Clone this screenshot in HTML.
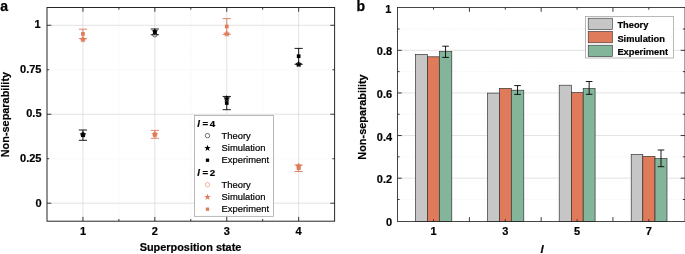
<!DOCTYPE html>
<html><head><meta charset="utf-8"><title>Non-separability</title>
<style>
html,body{margin:0;padding:0;background:#fff;}
body{width:685px;height:254px;overflow:hidden;}
svg{display:block;will-change:transform;font-family:"Liberation Sans",Arial,Helvetica,sans-serif;}
.b{font-weight:bold;}
.tk{font-weight:bold;font-size:11px;fill:#000;stroke:#000;stroke-width:0.2px;}
.ax{font-weight:bold;font-size:10.9px;fill:#000;stroke:#000;stroke-width:0.2px;}
.lg{font-size:9.4px;fill:#000;stroke:#000;stroke-width:0.2px;}
.lh{font-weight:bold;font-size:9.7px;fill:#000;stroke:#000;stroke-width:0.2px;}
.pl{font-weight:bold;font-size:14px;fill:#000;stroke:#000;stroke-width:0.25px;}
</style></head><body>
<svg width="685" height="254" viewBox="0 0 685 254">
<rect x="0" y="0" width="685" height="254" fill="#fff"/>

<g id="panel-a">
<line x1="82.95" y1="7.5" x2="82.95" y2="221.2" stroke="#dcdcdc" stroke-width="0.8"/>
<line x1="154.85" y1="7.5" x2="154.85" y2="221.2" stroke="#dcdcdc" stroke-width="0.8"/>
<line x1="226.75" y1="7.5" x2="226.75" y2="221.2" stroke="#dcdcdc" stroke-width="0.8"/>
<line x1="298.65" y1="7.5" x2="298.65" y2="221.2" stroke="#dcdcdc" stroke-width="0.8"/>
<line x1="118.90" y1="7.5" x2="118.90" y2="221.2" stroke="#e4e4e4" stroke-width="0.6" stroke-dasharray="0.8 1.6"/>
<line x1="190.80" y1="7.5" x2="190.80" y2="221.2" stroke="#e4e4e4" stroke-width="0.6" stroke-dasharray="0.8 1.6"/>
<line x1="262.70" y1="7.5" x2="262.70" y2="221.2" stroke="#e4e4e4" stroke-width="0.6" stroke-dasharray="0.8 1.6"/>
<line x1="47.0" y1="203.21" x2="334.6" y2="203.21" stroke="#dcdcdc" stroke-width="0.8"/>
<line x1="47.0" y1="114.25" x2="334.6" y2="114.25" stroke="#dcdcdc" stroke-width="0.8"/>
<line x1="47.0" y1="25.29" x2="334.6" y2="25.29" stroke="#dcdcdc" stroke-width="0.8"/>
<line x1="47.0" y1="158.73" x2="334.6" y2="158.73" stroke="#e4e4e4" stroke-width="0.6" stroke-dasharray="0.8 1.6"/>
<line x1="47.0" y1="69.77" x2="334.6" y2="69.77" stroke="#e4e4e4" stroke-width="0.6" stroke-dasharray="0.8 1.6"/>
<line x1="82.95" y1="221.2" x2="82.95" y2="216.89999999999998" stroke="#262626" stroke-width="0.9"/>
<line x1="82.95" y1="7.5" x2="82.95" y2="11.8" stroke="#262626" stroke-width="0.9"/>
<line x1="154.85" y1="221.2" x2="154.85" y2="216.89999999999998" stroke="#262626" stroke-width="0.9"/>
<line x1="154.85" y1="7.5" x2="154.85" y2="11.8" stroke="#262626" stroke-width="0.9"/>
<line x1="226.75" y1="221.2" x2="226.75" y2="216.89999999999998" stroke="#262626" stroke-width="0.9"/>
<line x1="226.75" y1="7.5" x2="226.75" y2="11.8" stroke="#262626" stroke-width="0.9"/>
<line x1="298.65" y1="221.2" x2="298.65" y2="216.89999999999998" stroke="#262626" stroke-width="0.9"/>
<line x1="298.65" y1="7.5" x2="298.65" y2="11.8" stroke="#262626" stroke-width="0.9"/>
<line x1="118.90" y1="221.2" x2="118.90" y2="219.0" stroke="#262626" stroke-width="0.9"/>
<line x1="118.90" y1="7.5" x2="118.90" y2="9.7" stroke="#262626" stroke-width="0.9"/>
<line x1="190.80" y1="221.2" x2="190.80" y2="219.0" stroke="#262626" stroke-width="0.9"/>
<line x1="190.80" y1="7.5" x2="190.80" y2="9.7" stroke="#262626" stroke-width="0.9"/>
<line x1="262.70" y1="221.2" x2="262.70" y2="219.0" stroke="#262626" stroke-width="0.9"/>
<line x1="262.70" y1="7.5" x2="262.70" y2="9.7" stroke="#262626" stroke-width="0.9"/>
<line x1="47.0" y1="203.21" x2="51.3" y2="203.21" stroke="#262626" stroke-width="0.9"/>
<line x1="334.6" y1="203.21" x2="330.3" y2="203.21" stroke="#262626" stroke-width="0.9"/>
<line x1="47.0" y1="114.25" x2="51.3" y2="114.25" stroke="#262626" stroke-width="0.9"/>
<line x1="334.6" y1="114.25" x2="330.3" y2="114.25" stroke="#262626" stroke-width="0.9"/>
<line x1="47.0" y1="25.29" x2="51.3" y2="25.29" stroke="#262626" stroke-width="0.9"/>
<line x1="334.6" y1="25.29" x2="330.3" y2="25.29" stroke="#262626" stroke-width="0.9"/>
<line x1="47.0" y1="158.73" x2="49.2" y2="158.73" stroke="#262626" stroke-width="0.9"/>
<line x1="334.6" y1="158.73" x2="332.40000000000003" y2="158.73" stroke="#262626" stroke-width="0.9"/>
<line x1="47.0" y1="69.77" x2="49.2" y2="69.77" stroke="#262626" stroke-width="0.9"/>
<line x1="334.6" y1="69.77" x2="332.40000000000003" y2="69.77" stroke="#262626" stroke-width="0.9"/>
<circle cx="82.95" cy="39.50" r="2.2" fill="none" stroke="#DF7B5A" stroke-width="0.55"/>
<polygon points="82.95,35.90 83.80,38.34 86.37,38.39 84.32,39.94 85.07,42.41 82.95,40.94 80.83,42.41 81.58,39.94 79.53,38.39 82.10,38.34" fill="#DF7B5A"/>
<path d="M82.95 29.20V38.60M78.85 29.20H87.05M78.85 38.60H87.05" stroke="#DF7B5A" stroke-width="0.9" fill="none"/>
<rect x="81.10" y="32.05" width="3.7" height="3.7" fill="#DF7B5A"/>
<circle cx="154.85" cy="34.80" r="2.2" fill="none" stroke="#000" stroke-width="0.55"/>
<polygon points="154.85,28.00 155.70,30.44 158.27,30.49 156.22,32.04 156.97,34.51 154.85,33.04 152.73,34.51 153.48,32.04 151.43,30.49 154.00,30.44" fill="#000"/>
<path d="M154.85 29.00V34.75M150.75 29.00H158.95M150.75 34.75H158.95" stroke="#000" stroke-width="0.9" fill="none"/>
<rect x="153.00" y="30.05" width="3.7" height="3.7" fill="#000"/>
<circle cx="226.75" cy="33.90" r="2.2" fill="none" stroke="#DF7B5A" stroke-width="0.55"/>
<polygon points="226.75,30.30 227.60,32.74 230.17,32.79 228.12,34.34 228.87,36.81 226.75,35.34 224.63,36.81 225.38,34.34 223.33,32.79 225.90,32.74" fill="#DF7B5A"/>
<path d="M226.75 18.60V34.40M222.65 18.60H230.85M222.65 34.40H230.85" stroke="#DF7B5A" stroke-width="0.9" fill="none"/>
<rect x="224.90" y="24.65" width="3.7" height="3.7" fill="#DF7B5A"/>
<circle cx="298.65" cy="64.30" r="2.2" fill="none" stroke="#000" stroke-width="0.55"/>
<polygon points="298.65,60.70 299.50,63.14 302.07,63.19 300.02,64.74 300.77,67.21 298.65,65.74 296.53,67.21 297.28,64.74 295.23,63.19 297.80,63.14" fill="#000"/>
<path d="M298.65 48.40V64.30M294.55 48.40H302.75M294.55 64.30H302.75" stroke="#000" stroke-width="0.9" fill="none"/>
<rect x="296.80" y="54.35" width="3.7" height="3.7" fill="#000"/>
<circle cx="82.95" cy="134.60" r="2.2" fill="none" stroke="#000" stroke-width="0.55"/>
<polygon points="82.95,131.00 83.80,133.44 86.37,133.49 84.32,135.04 85.07,137.51 82.95,136.04 80.83,137.51 81.58,135.04 79.53,133.49 82.10,133.44" fill="#000"/>
<path d="M82.95 130.00V140.30M78.85 130.00H87.05M78.85 140.30H87.05" stroke="#000" stroke-width="0.9" fill="none"/>
<rect x="81.10" y="133.25" width="3.7" height="3.7" fill="#000"/>
<circle cx="154.85" cy="134.50" r="2.2" fill="none" stroke="#DF7B5A" stroke-width="0.55"/>
<polygon points="154.85,130.90 155.70,133.34 158.27,133.39 156.22,134.94 156.97,137.41 154.85,135.94 152.73,137.41 153.48,134.94 151.43,133.39 154.00,133.34" fill="#DF7B5A"/>
<path d="M154.85 130.40V138.30M150.75 130.40H158.95M150.75 138.30H158.95" stroke="#DF7B5A" stroke-width="0.9" fill="none"/>
<rect x="153.00" y="132.55" width="3.7" height="3.7" fill="#DF7B5A"/>
<circle cx="226.75" cy="98.60" r="2.2" fill="none" stroke="#000" stroke-width="0.55"/>
<polygon points="226.75,95.00 227.60,97.44 230.17,97.49 228.12,99.04 228.87,101.51 226.75,100.04 224.63,101.51 225.38,99.04 223.33,97.49 225.90,97.44" fill="#000"/>
<path d="M226.75 96.45V109.70M222.65 96.45H230.85M222.65 109.70H230.85" stroke="#000" stroke-width="0.9" fill="none"/>
<rect x="224.90" y="101.15" width="3.7" height="3.7" fill="#000"/>
<circle cx="298.65" cy="166.20" r="2.2" fill="none" stroke="#DF7B5A" stroke-width="0.55"/>
<polygon points="298.65,162.60 299.50,165.04 302.07,165.09 300.02,166.64 300.77,169.11 298.65,167.64 296.53,169.11 297.28,166.64 295.23,165.09 297.80,165.04" fill="#DF7B5A"/>
<path d="M298.65 165.00V171.50M294.55 165.00H302.75M294.55 171.50H302.75" stroke="#DF7B5A" stroke-width="0.9" fill="none"/>
<rect x="296.80" y="166.35" width="3.7" height="3.7" fill="#DF7B5A"/>
<rect x="194.6" y="115.4" width="78.8" height="100.9" fill="#fff" stroke="#9a9a9a" stroke-width="0.7"/>
<text class="lh" y="127.4"><tspan x="197.3" font-style="italic">l</tspan><tspan x="202.4">=</tspan><tspan x="209.8">4</tspan></text>
<text class="lg" x="221.6" y="138.8">Theory</text>
<text class="lg" x="221.6" y="150.9">Simulation</text>
<text class="lg" x="221.6" y="162.9">Experiment</text>
<text class="lh" y="176.3"><tspan x="197.3" font-style="italic">l</tspan><tspan x="202.4">=</tspan><tspan x="209.8">2</tspan></text>
<text class="lg" x="221.6" y="187.7">Theory</text>
<text class="lg" x="221.6" y="199.8">Simulation</text>
<text class="lg" x="221.6" y="212.0">Experiment</text>
<circle cx="207.50" cy="135.60" r="2.2" fill="none" stroke="#000" stroke-width="0.55"/>
<polygon points="207.50,144.80 208.30,147.10 210.73,147.15 208.79,148.62 209.50,150.95 207.50,149.56 205.50,150.95 206.21,148.62 204.27,147.15 206.70,147.10" fill="#000"/>
<rect x="205.85" y="158.55" width="3.3" height="3.3" fill="#000"/>
<circle cx="207.50" cy="184.70" r="2.2" fill="none" stroke="#DF7B5A" stroke-width="0.55"/>
<polygon points="207.50,193.80 208.30,196.10 210.73,196.15 208.79,197.62 209.50,199.95 207.50,198.56 205.50,199.95 206.21,197.62 204.27,196.15 206.70,196.10" fill="#DF7B5A"/>
<rect x="205.85" y="207.55" width="3.3" height="3.3" fill="#DF7B5A"/>
<rect x="47.0" y="7.5" width="287.6" height="213.7" fill="none" stroke="#262626" stroke-width="1"/>
<text class="tk" x="40.7" y="28.09" text-anchor="end">1</text>
<text class="tk" x="41.5" y="73.37" text-anchor="end">0.75</text>
<text class="tk" x="41.5" y="117.25" text-anchor="end">0.5</text>
<text class="tk" x="41.5" y="162.43" text-anchor="end">0.25</text>
<text class="tk" x="41.5" y="206.91" text-anchor="end">0</text>
<text class="tk" x="82.95" y="234.5" text-anchor="middle">1</text>
<text class="tk" x="154.85" y="234.5" text-anchor="middle">2</text>
<text class="tk" x="226.75" y="234.5" text-anchor="middle">3</text>
<text class="tk" x="298.65" y="234.5" text-anchor="middle">4</text>
<text class="ax" x="190.5" y="251.2" text-anchor="middle">Superposition state</text>
<text class="ax" transform="translate(9.3 114.6) rotate(-90)" text-anchor="middle">Non-separability</text>
<text class="pl" x="0.3" y="10.8">a</text>
</g>
<g id="panel-b">
<line x1="397.45" y1="178.18" x2="685.0" y2="178.18" stroke="#dcdcdc" stroke-width="0.8"/>
<line x1="397.45" y1="135.56" x2="685.0" y2="135.56" stroke="#dcdcdc" stroke-width="0.8"/>
<line x1="397.45" y1="92.94" x2="685.0" y2="92.94" stroke="#dcdcdc" stroke-width="0.8"/>
<line x1="397.45" y1="50.32" x2="685.0" y2="50.32" stroke="#dcdcdc" stroke-width="0.8"/>
<line x1="397.45" y1="199.49" x2="685.0" y2="199.49" stroke="#e4e4e4" stroke-width="0.6" stroke-dasharray="0.8 1.6"/>
<line x1="397.45" y1="156.87" x2="685.0" y2="156.87" stroke="#e4e4e4" stroke-width="0.6" stroke-dasharray="0.8 1.6"/>
<line x1="397.45" y1="114.25" x2="685.0" y2="114.25" stroke="#e4e4e4" stroke-width="0.6" stroke-dasharray="0.8 1.6"/>
<line x1="397.45" y1="71.63" x2="685.0" y2="71.63" stroke="#e4e4e4" stroke-width="0.6" stroke-dasharray="0.8 1.6"/>
<line x1="397.45" y1="29.01" x2="685.0" y2="29.01" stroke="#e4e4e4" stroke-width="0.6" stroke-dasharray="0.8 1.6"/>
<rect x="415.40" y="54.40" width="12.10" height="167.05" fill="#C6C6C6" stroke="#2a2a2a" stroke-width="0.65"/>
<rect x="427.50" y="56.80" width="11.80" height="164.65" fill="#DF7B5A" stroke="#2a2a2a" stroke-width="0.65"/>
<rect x="439.30" y="51.60" width="12.50" height="169.85" fill="#83B59A" stroke="#2a2a2a" stroke-width="0.65"/>
<path d="M445.55 46.20V57.40M442.25 46.20H448.85M442.25 57.40H448.85" stroke="#000" stroke-width="0.9" fill="none"/>
<rect x="487.40" y="93.10" width="12.00" height="128.35" fill="#C6C6C6" stroke="#2a2a2a" stroke-width="0.65"/>
<rect x="499.40" y="88.40" width="11.90" height="133.05" fill="#DF7B5A" stroke="#2a2a2a" stroke-width="0.65"/>
<rect x="511.30" y="90.20" width="12.50" height="131.25" fill="#83B59A" stroke="#2a2a2a" stroke-width="0.65"/>
<path d="M517.55 85.60V94.40M514.25 85.60H520.85M514.25 94.40H520.85" stroke="#000" stroke-width="0.9" fill="none"/>
<rect x="559.20" y="85.20" width="12.20" height="136.25" fill="#C6C6C6" stroke="#2a2a2a" stroke-width="0.65"/>
<rect x="571.40" y="92.60" width="11.80" height="128.85" fill="#DF7B5A" stroke="#2a2a2a" stroke-width="0.65"/>
<rect x="583.20" y="88.60" width="11.90" height="132.85" fill="#83B59A" stroke="#2a2a2a" stroke-width="0.65"/>
<path d="M589.15 81.50V94.30M585.85 81.50H592.45M585.85 94.30H592.45" stroke="#000" stroke-width="0.9" fill="none"/>
<rect x="631.20" y="154.50" width="11.60" height="66.95" fill="#C6C6C6" stroke="#2a2a2a" stroke-width="0.65"/>
<rect x="642.80" y="156.40" width="12.20" height="65.05" fill="#DF7B5A" stroke="#2a2a2a" stroke-width="0.65"/>
<rect x="655.00" y="158.60" width="12.00" height="62.85" fill="#83B59A" stroke="#2a2a2a" stroke-width="0.65"/>
<path d="M661.00 150.00V166.70M657.70 150.00H664.30M657.70 166.70H664.30" stroke="#000" stroke-width="0.9" fill="none"/>
<line x1="469.41" y1="221.45" x2="469.41" y2="217.14999999999998" stroke="#262626" stroke-width="0.9"/>
<line x1="469.41" y1="7.5" x2="469.41" y2="11.8" stroke="#262626" stroke-width="0.9"/>
<line x1="541.17" y1="221.45" x2="541.17" y2="217.14999999999998" stroke="#262626" stroke-width="0.9"/>
<line x1="541.17" y1="7.5" x2="541.17" y2="11.8" stroke="#262626" stroke-width="0.9"/>
<line x1="612.93" y1="221.45" x2="612.93" y2="217.14999999999998" stroke="#262626" stroke-width="0.9"/>
<line x1="612.93" y1="7.5" x2="612.93" y2="11.8" stroke="#262626" stroke-width="0.9"/>
<line x1="433.53" y1="221.45" x2="433.53" y2="219.25" stroke="#262626" stroke-width="0.9"/>
<line x1="433.53" y1="7.5" x2="433.53" y2="9.7" stroke="#262626" stroke-width="0.9"/>
<line x1="505.29" y1="221.45" x2="505.29" y2="219.25" stroke="#262626" stroke-width="0.9"/>
<line x1="505.29" y1="7.5" x2="505.29" y2="9.7" stroke="#262626" stroke-width="0.9"/>
<line x1="577.05" y1="221.45" x2="577.05" y2="219.25" stroke="#262626" stroke-width="0.9"/>
<line x1="577.05" y1="7.5" x2="577.05" y2="9.7" stroke="#262626" stroke-width="0.9"/>
<line x1="648.81" y1="221.45" x2="648.81" y2="219.25" stroke="#262626" stroke-width="0.9"/>
<line x1="648.81" y1="7.5" x2="648.81" y2="9.7" stroke="#262626" stroke-width="0.9"/>
<line x1="397.45" y1="178.18" x2="401.75" y2="178.18" stroke="#262626" stroke-width="0.9"/>
<line x1="685.0" y1="178.18" x2="680.7" y2="178.18" stroke="#262626" stroke-width="0.9"/>
<line x1="397.45" y1="135.56" x2="401.75" y2="135.56" stroke="#262626" stroke-width="0.9"/>
<line x1="685.0" y1="135.56" x2="680.7" y2="135.56" stroke="#262626" stroke-width="0.9"/>
<line x1="397.45" y1="92.94" x2="401.75" y2="92.94" stroke="#262626" stroke-width="0.9"/>
<line x1="685.0" y1="92.94" x2="680.7" y2="92.94" stroke="#262626" stroke-width="0.9"/>
<line x1="397.45" y1="50.32" x2="401.75" y2="50.32" stroke="#262626" stroke-width="0.9"/>
<line x1="685.0" y1="50.32" x2="680.7" y2="50.32" stroke="#262626" stroke-width="0.9"/>
<line x1="397.45" y1="199.49" x2="399.65" y2="199.49" stroke="#262626" stroke-width="0.9"/>
<line x1="685.0" y1="199.49" x2="682.8" y2="199.49" stroke="#262626" stroke-width="0.9"/>
<line x1="397.45" y1="156.87" x2="399.65" y2="156.87" stroke="#262626" stroke-width="0.9"/>
<line x1="685.0" y1="156.87" x2="682.8" y2="156.87" stroke="#262626" stroke-width="0.9"/>
<line x1="397.45" y1="114.25" x2="399.65" y2="114.25" stroke="#262626" stroke-width="0.9"/>
<line x1="685.0" y1="114.25" x2="682.8" y2="114.25" stroke="#262626" stroke-width="0.9"/>
<line x1="397.45" y1="71.63" x2="399.65" y2="71.63" stroke="#262626" stroke-width="0.9"/>
<line x1="685.0" y1="71.63" x2="682.8" y2="71.63" stroke="#262626" stroke-width="0.9"/>
<line x1="397.45" y1="29.01" x2="399.65" y2="29.01" stroke="#262626" stroke-width="0.9"/>
<line x1="685.0" y1="29.01" x2="682.8" y2="29.01" stroke="#262626" stroke-width="0.9"/>
<rect x="397.45" y="7.5" width="287.55" height="213.95" fill="none" stroke="#262626" stroke-width="0.85"/>
<rect x="585.4" y="16.5" width="88.1" height="41.5" fill="#fff" stroke="#9a9a9a" stroke-width="0.7"/>
<rect x="588.2" y="18.2" width="24.3" height="11.4" fill="#C6C6C6" stroke="#333" stroke-width="0.6"/>
<text class="lg b" style="font-size:9.3px" x="617.4" y="28.0">Theory</text>
<rect x="588.2" y="31.4" width="24.3" height="11.4" fill="#DF7B5A" stroke="#333" stroke-width="0.6"/>
<text class="lg b" style="font-size:9.3px" x="617.4" y="41.7">Simulation</text>
<rect x="588.2" y="45.2" width="24.3" height="11.4" fill="#83B59A" stroke="#333" stroke-width="0.6"/>
<text class="lg b" style="font-size:9.3px" x="617.4" y="54.8">Experiment</text>
<text class="tk" x="391.25" y="13.20" text-anchor="end">1</text>
<text class="tk" x="392.15" y="55.22" text-anchor="end">0.8</text>
<text class="tk" x="392.15" y="97.94" text-anchor="end">0.6</text>
<text class="tk" x="392.15" y="140.66" text-anchor="end">0.4</text>
<text class="tk" x="392.15" y="183.38" text-anchor="end">0.2</text>
<text class="tk" x="392.15" y="225.60" text-anchor="end">0</text>
<text class="tk" x="433.63" y="234.5" text-anchor="middle">1</text>
<text class="tk" x="505.39" y="234.5" text-anchor="middle">3</text>
<text class="tk" x="577.15" y="234.5" text-anchor="middle">5</text>
<text class="tk" x="648.91" y="234.5" text-anchor="middle">7</text>
<text class="ax" x="542.0" y="252.8" text-anchor="middle" font-style="italic" style="font-size:11.5px">l</text>
<text class="ax" transform="translate(366 117.0) rotate(-90)" text-anchor="middle">Non-separability</text>
<text class="pl" x="356.4" y="10.7">b</text>
</g>
</svg></body></html>
